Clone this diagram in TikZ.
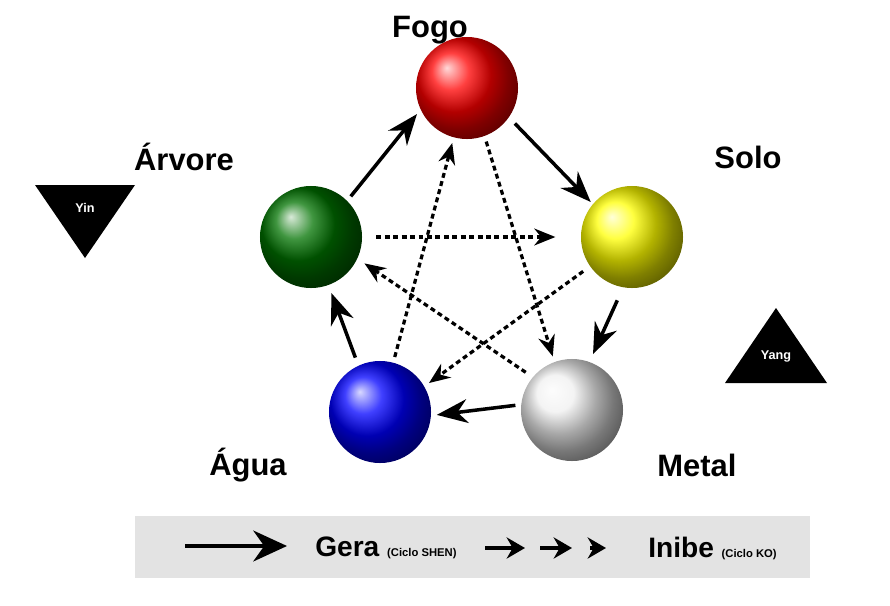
\documentclass[tikz,border=0pt]{standalone}
\usepackage{fontspec}
\setmainfont{Liberation Sans}
\usetikzlibrary{arrows.meta}
\begin{document}
\begin{tikzpicture}[x=0.025cm,y=-0.025cm,
  ball/.style={circle,minimum size=2.55cm,inner sep=0,ball color=#1},
  lab/.style={font=\fontsize{22}{24}\selectfont\bfseries},
  gen/.style={line width=2.5pt,-{Stealth[length=22pt,width=17pt]}},
  inh/.style={line width=2.3pt,dash pattern=on 3.5pt off 2.5pt,-{Stealth[length=15pt,width=12pt]}}]
\useasboundingbox (0,0) rectangle (890,606);
\node[ball=red] (fogo) at (467,88) {};
\node[ball=yellow] (solo) at (632,237) {};
\node[ball=gray!12] (metal) at (572,410) {};
\node[ball=blue] (agua) at (380,412) {};
\node[ball=green!45!black] (arv) at (311,237) {};
\node[lab] (lfogo) at (430,30) {Fogo};
\node[lab] (lsolo) at (748,157) {Solo};
\node[lab] (lmetal) at (697,465) {Metal};
\node[lab] (lagua) at (248,465) {Água};
\node[lab] (larv) at (184,157) {Árvore};
\fill (35,185) -- (135,185) -- (85,258) -- cycle;
\node[white,font=\small\bfseries] (yin) at (85,208) {Yin};
\fill (725,383) -- (827,383) -- (776,308) -- cycle;
\node[white,font=\small\bfseries] (yang) at (776,356) {Yang};
% generating
\draw[gen,shorten <=4pt,shorten >=4pt] (arv.45) -- (fogo.205);
\draw[gen,shorten <=6pt,shorten >=2pt] (fogo.-35) -- (solo.140);
\draw[gen,shorten <=10pt,shorten >=6pt] (solo.-100) -- (metal.70);
\draw[gen,shorten <=4pt,shorten >=4pt] (metal.174) -- (agua.-4);
\draw[gen,shorten <=6pt,shorten >=6pt] (agua.115) -- (arv.-70);
% inhibiting
\draw[inh,shorten <=10pt,shorten >=18pt] (arv.0) -- (solo.180);
\draw[inh,shorten <=6pt,shorten >=4pt] (solo.-145) -- (agua.30);
\draw[inh,shorten <=4pt,shorten >=4pt] (agua.75) -- (fogo.-105);
\draw[inh,shorten <=4pt,shorten >=4pt] (fogo.-70) -- (metal.110);
\draw[inh,shorten <=6pt,shorten >=6pt] (metal.140) -- (arv.-25);
% legend
\fill[gray!22] (135,516) rectangle (810,578);
\coordinate (l1) at (185,546); \coordinate (l2) at (287,546);
\draw[line width=2.5pt,-{Stealth[length=24pt,width=22pt]}] (l1) -- (l2);
\node[anchor=west,inner sep=0] (gera) at (315,548) {\fontsize{20}{22}\selectfont\bfseries Gera {\fontsize{8}{9}\selectfont (Ciclo SHEN)}};
\foreach \a/\b in {485/525,540/572,590/606}{
  \draw[line width=2.5pt,-{Stealth[length=13pt,width=15pt]}] (\a,548) -- (\b,548);}
\node[anchor=west,inner sep=0] (inibe) at (648,548) {\fontsize{20}{22}\selectfont\bfseries Inibe {\fontsize{8}{9}\selectfont (Ciclo KO)}};
\end{tikzpicture}
\end{document}
